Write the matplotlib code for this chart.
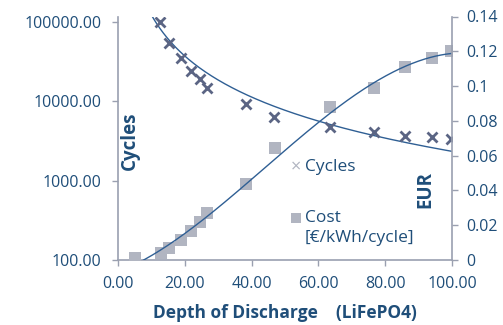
import numpy as np
import matplotlib
matplotlib.use("Agg")
import matplotlib.pyplot as plt
from matplotlib.ticker import FixedLocator, FuncFormatter
from matplotlib.lines import Line2D

plt.rcParams['font.family'] = ['Open Sans', 'DejaVu Sans']

# Data
cycles_dod = [12.6, 15.3, 18.9, 21.9, 24.6, 26.6, 38.3, 46.7, 63.5, 76.6, 85.9, 94.0, 99.7]
cycles_val = [100000, 55000, 35000, 24500, 19000, 14600, 9400, 6300, 4700, 4100, 3650, 3600, 3400]
cost_dod = [5.1, 12.9, 15.3, 18.9, 21.9, 24.6, 26.6, 38.3, 47.0, 63.5, 76.6, 85.9, 94.0, 99.7]
cost_val = [0.0012, 0.004, 0.0069, 0.0115, 0.0167, 0.0219, 0.027, 0.0438, 0.0646, 0.088, 0.099, 0.111, 0.116, 0.120]
# trendlines
cycles_trend_coef = 6.46e6
cycles_trend_exp = -1.72
cost_trend_dod = [6.0, 12.6, 21.6, 26.6, 40.0, 59.6, 79.3, 85.9, 99.7]
cost_trend_val = [0.0006, 0.004, 0.0144, 0.0248, 0.049, 0.080, 0.1037, 0.1095, 0.120]

x_ticks = [0, 20, 40, 60, 80, 100]
left_ticks = [100, 1000, 10000, 100000]
right_ticks = [0, 0.02, 0.04, 0.06, 0.08, 0.10, 0.12, 0.14]

TXT = '#1f4e79'
SPINE = '#9aa0b0'
LINE = '#2f5f94'
XCOL = '#5b6584'
SQCOL = '#b1b5c1'

fig = plt.figure(figsize=(5.03, 3.25), dpi=100)
ax = fig.add_axes([118/503, 1-260/325, (452-118)/503, (260-16.5)/325])
ax2 = ax.twinx()

ax.set_yscale('log')
ax.set_xlim(0, 100)
ax.set_ylim(100, 10**(2+243.5/79.3))
ax2.set_ylim(0, 0.14)

# cycles trend (power law)
xt = np.linspace(8, 100, 300)
ax.plot(xt, cycles_trend_coef * xt**cycles_trend_exp, color=LINE, lw=1.0, zorder=2)
ax.plot(cycles_dod, cycles_val, linestyle='none', marker='x', ms=7, mew=2.0, color=XCOL, zorder=3)

# cost trend (cubic through the trendline readings)
p = np.polyfit(cost_trend_dod, cost_trend_val, 3)
xc = np.linspace(cost_trend_dod[0], cost_trend_dod[-1], 300)
ax2.plot(xc, np.polyval(p, xc), color=LINE, lw=1.0, zorder=2)
ax2.plot(cost_dod, cost_val, linestyle='none', marker='s', ms=8, mew=0, color=SQCOL, zorder=1)

for a in (ax, ax2):
    for s in a.spines.values():
        s.set_visible(False)
ax.spines['left'].set_visible(True)
ax.spines['bottom'].set_visible(True)
ax2.spines['right'].set_visible(True)
for s in (ax.spines['left'], ax.spines['bottom'], ax2.spines['right']):
    s.set_color(SPINE)
    s.set_linewidth(1.2)

ax.xaxis.set_major_locator(FixedLocator(x_ticks))
ax.xaxis.set_major_formatter(FuncFormatter(lambda v, p: f"{v:.2f}"))
ax.yaxis.set_major_locator(FixedLocator(left_ticks))
ax.yaxis.set_minor_locator(FixedLocator([]))
ax.yaxis.set_major_formatter(FuncFormatter(lambda v, p: f"{v:.2f}"))
ax2.yaxis.set_major_locator(FixedLocator(right_ticks))
ax2.yaxis.set_major_formatter(FuncFormatter(lambda v, p: f"{v:g}"))

ax.tick_params(axis='x', which='major', direction='out', length=4, width=1.0,
               color=SPINE, labelcolor=TXT, labelsize=11.5, pad=7.5)
ax.tick_params(axis='y', which='major', direction='out', length=4, width=1.0,
               color=SPINE, labelcolor=TXT, labelsize=11.5, pad=8)
ax2.tick_params(axis='y', which='major', direction='out', length=4, width=1.0,
                color=SPINE, labelcolor=TXT, labelsize=11.5, pad=6.5)

ax.set_xlabel('Depth of Discharge    (LiFePO4)', color=TXT, fontsize=12.5, fontweight='bold', labelpad=9)
fig.text(130/503, 1-141/325, 'Cycles', rotation=90, color=TXT, fontsize=13.5,
         fontweight='bold', ha='center', va='center')
fig.text(425/503, 1-190/325, 'EUR', rotation=90, color=TXT, fontsize=13.5,
         fontweight='bold', ha='center', va='center')

# legend
fig.text(296/503, 1-167/325, '×', color=SQCOL, fontsize=13, ha='center', va='center')
fig.text(305/503, 1-167/325, 'Cycles', color=TXT, fontsize=12.5, ha='left', va='center')
fig.lines.append(Line2D([296/503], [1-218/325], transform=fig.transFigure, marker='s',
                        ms=7, mew=0, color=SQCOL, linestyle='none'))
fig.text(305/503, 1-218/325, 'Cost', color=TXT, fontsize=12.5, ha='left', va='center')
fig.text(305/503, 1-238/325, '[€/kWh/cycle]', color=TXT, fontsize=12.5, ha='left', va='center')

fig.savefig('out.png', dpi=100)
